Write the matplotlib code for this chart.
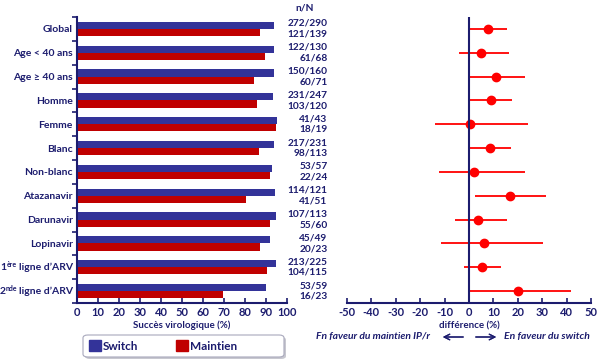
import numpy as np
import matplotlib
matplotlib.use("Agg")
import matplotlib.pyplot as plt
from matplotlib.patches import Patch, FancyBboxPatch
from matplotlib.transforms import offset_copy

plt.rcParams['font.family'] = ['Lato', 'DejaVu Sans']
plt.rcParams['axes.unicode_minus'] = False

# data
groups = ['Global', 'Age < 40 ans', 'Age \u2265 40 ans', 'Homme', 'Femme', 'Blanc',
          'Non-blanc', 'Atazanavir', 'Darunavir', 'Lopinavir',
          '1\u00e8re ligne d\u2019ARV', '2nde ligne d\u2019ARV']
switch = [93.8, 93.8, 93.8, 93.5, 95.3, 93.9, 93.0, 94.2, 94.7, 91.8, 94.7, 89.8]
maintien = [87.1, 89.7, 84.5, 85.8, 94.7, 86.7, 91.7, 80.4, 91.7, 87.0, 90.4, 69.6]
nN_switch = ['272/290', '122/130', '150/160', '231/247', '41/43', '217/231',
             '53/57', '114/121', '107/113', '45/49', '213/225', '53/59']
nN_maint = ['121/139', '61/68', '60/71', '103/120', '18/19', '98/113',
            '22/24', '41/51', '55/60', '20/23', '104/115', '16/23']
diff = [7.9, 4.9, 10.9, 9.0, 0.3, 8.5, 1.9, 16.7, 3.6, 6.0, 5.2, 20.2]
ci_low = [0.2, -4.2, 0.2, 0.2, -14.1, 0.2, -12.3, 2.5, -5.6, -11.4, -2.1, 0.1]
ci_high = [15.7, 16.4, 23.1, 17.8, 24.3, 17.2, 23.0, 31.4, 15.5, 30.5, 13.3, 42.0]
# labels with superscript: (number, superscript, rest)
sup_labels = {10: ('1', '\u00e8re', 'ligne d\u2019ARV'), 11: ('2', 'nde', 'ligne d\u2019ARV')}

navy = '#1c1c6e'
blue = '#333399'
red = '#c00000'
bright = '#ff0000'
W = 'bold'

fig = plt.figure(figsize=(6.02, 3.63), dpi=100)
ax = fig.add_axes([77/602, 60/363, 210/602, 286/363])
ax2 = fig.add_axes([347/602, 60/363, 244/602, 286/363])

y = np.arange(len(groups))
ax.barh(y - 0.15, switch, height=0.3, color=blue)
ax.barh(y + 0.15, maintien, height=0.3, color=red)
ax.set_xlim(0, 100)
ax.set_ylim(len(groups) - 0.5, -0.5)
ax.set_xticks(np.arange(0, 101, 10))
ax.set_yticks(y)
ax.set_yticklabels(['' if i in sup_labels else g for i, g in enumerate(groups)])
ax.set_yticks(np.arange(-0.5, len(groups)), minor=True)
ax.tick_params(axis='y', which='major', length=0, pad=3, labelsize=7.5, labelcolor=navy)
ax.tick_params(axis='y', which='minor', length=3.5, width=1.2, color=navy, direction='out')
ax.tick_params(axis='x', length=3.5, width=1.2, color=navy, direction='in',
               labelsize=8, labelcolor=navy, pad=3)
for lab in ax.get_xticklabels() + ax.get_yticklabels():
    lab.set_fontweight(W)
for s in ['top', 'right']:
    ax.spines[s].set_visible(False)
for s in ['left', 'bottom']:
    ax.spines[s].set_color(navy)
    ax.spines[s].set_linewidth(1.5)
ax.set_xlabel('Succès virologique (%)', fontsize=7, fontweight=W, color=navy, labelpad=2)

# hand-built labels with superscripts
renderer = fig.canvas.get_renderer()
ytrans = ax.get_yaxis_transform()
for i, (num, sup, rest) in sup_labels.items():
    off = -4.0
    t = ax.text(0, i, rest, transform=offset_copy(ytrans, fig, x=off, units='dots'),
                ha='right', va='center', fontsize=7.5, fontweight=W, color=navy)
    off -= t.get_window_extent(renderer).width + 2
    t = ax.text(0, i, sup, transform=offset_copy(ytrans, fig, x=off, y=3, units='dots'),
                ha='right', va='center', fontsize=5, fontweight=W, color=navy)
    off -= t.get_window_extent(renderer).width
    ax.text(0, i, num, transform=offset_copy(ytrans, fig, x=off, units='dots'),
            ha='right', va='center', fontsize=7.5, fontweight=W, color=navy)

# forest plot
ax2.hlines(y, ci_low, ci_high, color=bright, lw=1.3)
ax2.plot(diff, y, 'o', color=bright, ms=6)
ax2.axvline(0, color=navy, lw=1.5)
ax2.set_xlim(-50, 50)
ax2.set_ylim(len(groups) - 0.5, -0.5)
ax2.set_xticks(np.arange(-50, 51, 10))
ax2.set_yticks([])
ax2.tick_params(axis='x', length=3.5, width=1.2, color=navy, direction='in',
                labelsize=8, labelcolor=navy, pad=3)
for lab in ax2.get_xticklabels():
    lab.set_fontweight(W)
for s in ['top', 'right', 'left']:
    ax2.spines[s].set_visible(False)
ax2.spines['bottom'].set_color(navy)
ax2.spines['bottom'].set_linewidth(1.5)
ax2.set_xlabel('différence (%)', fontsize=7, fontweight=W, color=navy, labelpad=2)

# n/N column
for i in range(len(groups)):
    ax2.text(-58, i - 0.23, nN_switch[i], ha='right', va='center', fontsize=7.3,
             fontweight=W, color=navy, clip_on=False)
    ax2.text(-58, i + 0.22, nN_maint[i], ha='right', va='center', fontsize=7.3,
             fontweight=W, color=navy, clip_on=False)
fig.text(305/602, 1 - 8/363, 'n/N', ha='center', va='center', fontsize=7.3,
         fontweight=W, color=navy)

# direction annotations
yb = 1 - 337/363
fig.text(430/602, yb, 'Fn faveur du maintien IP/r', ha='right', va='center',
         fontsize=7.4, style='italic', fontweight=W, color=navy)
fig.text(504/602, yb, 'En faveur du switch', ha='left', va='center',
         fontsize=7.5, style='italic', fontweight=W, color=navy)
fig.add_artist(plt.annotate('', xy=(440/602, yb), xytext=(466/602, yb),
                            xycoords='figure fraction',
                            arrowprops=dict(arrowstyle='->', color=navy, lw=0.9)))
fig.add_artist(plt.annotate('', xy=(499/602, yb), xytext=(473/602, yb),
                            xycoords='figure fraction',
                            arrowprops=dict(arrowstyle='->', color=navy, lw=0.9)))

# legend box with shadow
for dx, dy, fc, ec in [(2, -2, '#c8c8d0', 'none'), (0, 0, 'white', '#a8a8bc')]:
    fig.add_artist(FancyBboxPatch(((83 + dx)/602, 1 - (357 - dy)/363), 201/602, 22/363,
                                  boxstyle='round,pad=0,rounding_size=0.008',
                                  transform=fig.transFigure, facecolor=fc, edgecolor=ec, lw=0.8))
handles = [Patch(facecolor=blue, edgecolor=blue), Patch(facecolor=red, edgecolor=red)]
leg = fig.legend(handles, ['Switch', 'Maintien'], loc='center left',
                 bbox_to_anchor=(89/602, 1 - 346/363), ncol=2, frameon=False,
                 handlelength=1.0, handleheight=1.0,
                 handletextpad=0.2, columnspacing=3.2, borderpad=0.0, borderaxespad=0.0,
                 prop={'weight': W, 'size': 8.5})
for t in leg.get_texts():
    t.set_color(navy)

fig.savefig('out.png', dpi=100)
